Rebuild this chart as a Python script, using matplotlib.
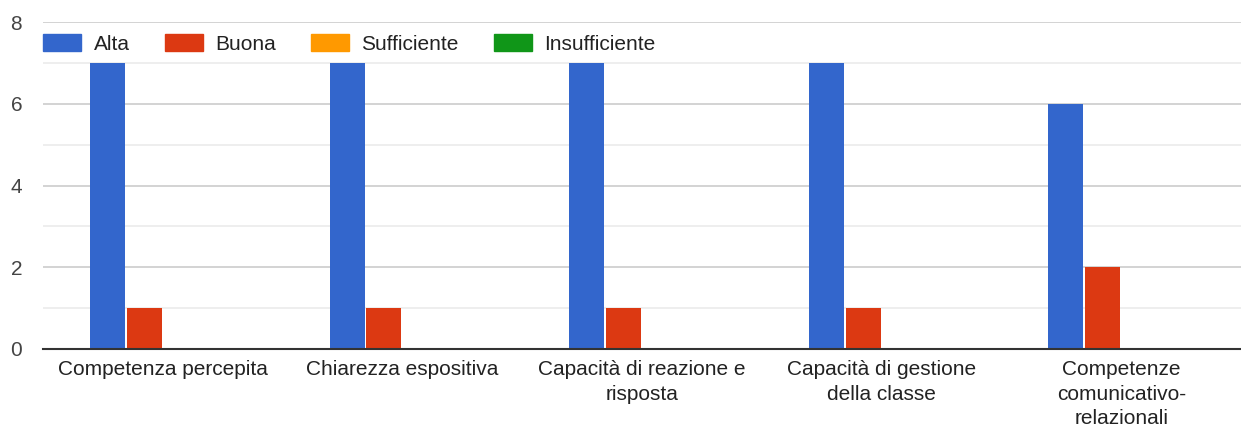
import matplotlib
matplotlib.use("Agg")
import matplotlib.pyplot as plt
import numpy as np
from matplotlib.patches import Patch

categories = ["Competenza percepita", "Chiarezza espositiva",
              "Capacità di reazione e\nrisposta", "Capacità di gestione\ndella classe",
              "Competenze\ncomunicativo-\nrelazionali"]
series_names = ["Alta", "Buona", "Sufficiente", "Insufficiente"]
alta = [7, 7, 7, 7, 6]
buona = [1, 1, 1, 1, 2]
sufficiente = [0, 0, 0, 0, 0]
insufficiente = [0, 0, 0, 0, 0]
colors = ["#3366cc", "#dc3912", "#ff9900", "#109618"]

plt.rcParams['font.family'] = ['Liberation Sans', 'DejaVu Sans']

fig = plt.figure(figsize=(12.41, 4.30), dpi=100)
ax = fig.add_axes([43/1241, 1-349/430, 1-43/1241, (349-22)/430])

x = np.arange(len(categories))
w = 0.146
step = 0.154
data = [alta, buona, sufficiente, insufficiente]
for i, (vals, c) in enumerate(zip(data, colors)):
    ax.bar(x + (i - 1.5) * step, vals, width=w, color=c, zorder=3)

ax.set_xlim(-0.5, len(categories) - 0.5)
ax.set_ylim(0, 8)
ax.set_yticks([0, 2, 4, 6, 8])
ax.set_yticks([1, 3, 5, 7], minor=True)
ax.grid(axis='y', which='major', color='#cccccc', linewidth=1.2, zorder=0)
ax.grid(axis='y', which='minor', color='#ebebeb', linewidth=1.2, zorder=0)
ax.set_xticks(x)
ax.set_xticklabels(categories, fontsize=15, color='#222222', linespacing=1.37)
ax.tick_params(axis='x', length=0, pad=8)
ax.tick_params(axis='y', which='both', length=0, pad=15, labelsize=15, labelcolor='#444444')
for s in ['top', 'right', 'left']:
    ax.spines[s].set_visible(False)
ax.spines['bottom'].set_color('#333333')
ax.spines['bottom'].set_linewidth(1.5)
ax.spines['bottom'].set_zorder(4)

handles = [Patch(facecolor=c, edgecolor=c) for c in colors]
fig.legend(handles, series_names, loc='center left',
           bbox_to_anchor=(35/1241, 1-44/430), ncol=4, frameon=False,
           fontsize=15, handlelength=1.83, handleheight=0.87,
           handletextpad=0.58, columnspacing=1.7, borderaxespad=0,
           labelcolor='#222222')

fig.savefig("out.png", dpi=100, facecolor='white')
